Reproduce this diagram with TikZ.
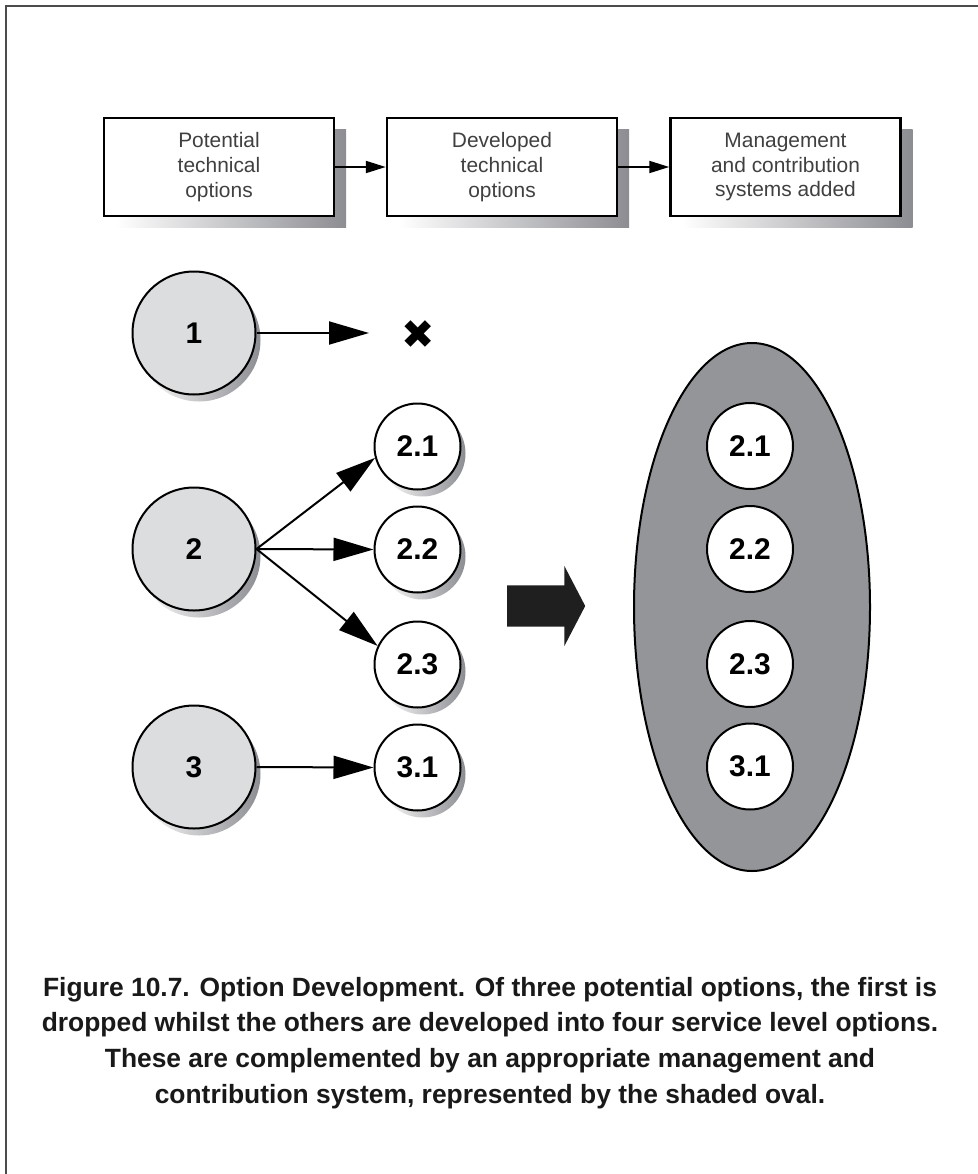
\documentclass[tikz,border=0pt]{standalone}
\usepackage{fontspec}
\setmainfont{Liberation Sans}
\newfontfamily\symfont{DejaVu Sans}
\usepackage{tikz}
\usetikzlibrary{arrows.meta,shapes,shadows}

\definecolor{bubblegrey}{RGB}{220,221,223}
\definecolor{ovalgrey}{RGB}{148,149,153}
\definecolor{shadowgrey}{RGB}{140,141,146}

\tikzset{
    stage/.style={draw,line width=2.5bp,fill=white,minimum width=230bp,minimum height=98bp,align=center,text=black!75,font=\fontsize{21}{25}\selectfont,
        general shadow={shadow xshift=12bp,shadow yshift=-11bp,left color=white,right color=shadowgrey}},
    option/.style={draw,circle,line width=2bp,fill=bubblegrey,minimum size=123bp,inner sep=0pt,font=\bfseries\fontsize{30}{30}\selectfont,
        general shadow={shadow xshift=5bp,shadow yshift=-7bp,left color=white,right color=shadowgrey}},
    suboption/.style={draw,circle,line width=2bp,fill=white,minimum size=86bp,inner sep=0pt,font=\bfseries\fontsize{30}{30}\selectfont},
    shadowed/.style={general shadow={shadow xshift=5bp,shadow yshift=-7bp,left color=white,right color=shadowgrey}},
    link/.style={line width=2bp,-{Triangle[length=20bp,width=12bp]}},
    flow/.style={line width=2bp,-{Triangle[length=40bp,width=23bp]}}
}

\begin{document}
\begin{tikzpicture}
    \useasboundingbox (0bp,0bp) rectangle (978bp,-1174bp);
    \draw [black!70,line width=2bp] (6bp,-6bp) rectangle (1000bp,-1200bp);

    % stages along the top
    \node (S1) at (219bp,-167bp)[stage] {Potential\\technical\\options};
    \node (S2) at (502bp,-167bp)[stage] {Developed\\technical\\options};
    \node (S3) at (785.5bp,-167bp)[stage] {Management\\and contribution\\systems added};
    \draw [link] (S1) to (S2);
    \draw [link] (S2) to (S3);

    % potential options
    \node (O1) at (194bp,-333bp)[option] {1};
    \node (O2) at (194bp,-549bp)[option] {2};
    \node (O3) at (194bp,-767bp)[option] {3};
    \node (X) at (418bp,-335bp)[font=\symfont\fontsize{40}{40}\selectfont,inner sep=0pt] {✖};
    \coordinate (Xend) at (369bp,-333bp);

    % developed options
    \node (O21) at (417.5bp,-446.5bp)[suboption,shadowed] {2.1};
    \node (O22) at (417.5bp,-549.5bp)[suboption,shadowed] {2.2};
    \node (O23) at (417.5bp,-664.5bp)[suboption,shadowed] {2.3};
    \node (O31) at (417.5bp,-767.5bp)[suboption,shadowed] {3.1};

    \draw [flow] (O1.east) to (Xend);
    \draw [flow] (O2.east) to (O21.195);
    \draw [flow] (O2.east) to (O22.west);
    \draw [flow] (O2.east) to (O23.155);
    \draw [flow] (O3.east) to (O31.west);

    % move to the combined system
    \node (M) at (507bp,-606bp)[single arrow,anchor=tail,fill=black!88,inner xsep=0pt,inner ysep=20.5bp,minimum height=78bp,single arrow head extend=19.5bp,single arrow tip angle=125] {};

    \node (SYS) at (752bp,-607bp)[draw,ellipse,line width=2bp,fill=ovalgrey,minimum width=236bp,minimum height=528bp] {};
    \node (M21) at (750bp,-446bp)[suboption] {2.1};
    \node (M22) at (750bp,-549bp)[suboption] {2.2};
    \node (M23) at (750bp,-664bp)[suboption] {2.3};
    \node (M31) at (750bp,-766.5bp)[suboption] {3.1};

    % caption
    \node (CAP) at (490bp,-1043bp)[align=center,font=\bfseries\fontsize{26.5}{36}\selectfont,text=black!90] {Figure 10.7. Option Development. Of three potential options, the first is\\dropped whilst the others are developed into four service level options.\\These are complemented by an appropriate management and\\contribution system, represented by the shaded oval.};
\end{tikzpicture}
\end{document}
